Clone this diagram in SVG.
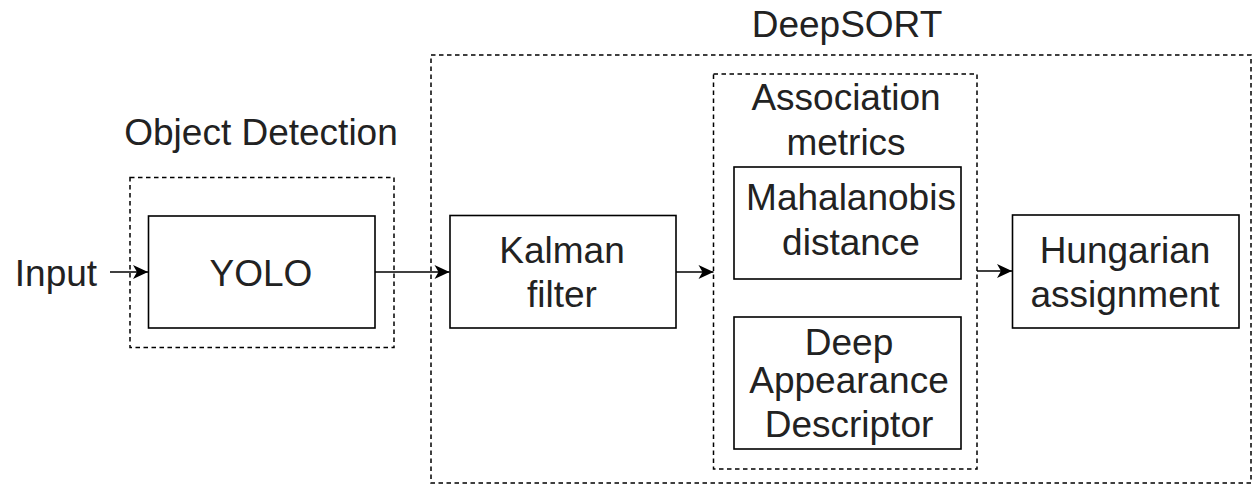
<svg xmlns="http://www.w3.org/2000/svg" width="1252" height="485" viewBox="0 0 1252 485">
<defs>
<style>
text{font-family:"Liberation Sans",Arial,Helvetica,sans-serif;font-size:37px;fill:#222;text-anchor:middle}
.box{fill:#fff;stroke:#000;stroke-width:1.6}
.dash{fill:none;stroke:#000;stroke-width:1.5;stroke-dasharray:4.5 3.5}
.edge{fill:none;stroke:#000;stroke-width:1.6}
</style>
<marker id="arr" markerUnits="userSpaceOnUse" markerWidth="18" markerHeight="16" refX="16" refY="8" orient="auto">
<path d="M16,8 L1,1 L5,8 L1,15 Z" fill="#000"/>
</marker>
</defs>
<rect width="1252" height="485" fill="#fff"/>
<g id="deepsort">
<rect class="dash" x="431" y="55" width="820" height="428"/>
<text x="847" y="37">DeepSORT</text>
</g>
<g id="object-detection">
<rect class="dash" x="130" y="177.5" width="264" height="170"/>
<text x="261" y="145">Object Detection</text>
</g>
<g id="association-metrics">
<rect class="dash" x="713.5" y="74" width="263.5" height="395"/>
<text x="846" y="110">Association</text>
<text x="846" y="155">metrics</text>
</g>
<g id="input">
<text x="56" y="286">Input</text>
</g>
<g id="yolo">
<rect class="box" x="148.5" y="216" width="226.5" height="112"/>
<text x="261" y="286">YOLO</text>
</g>
<g id="kalman">
<rect class="box" x="450" y="215.5" width="226" height="112.5"/>
<text x="562" y="263">Kalman</text>
<text x="562" y="307">filter</text>
</g>
<g id="mahalanobis">
<rect class="box" x="734" y="167" width="227" height="112"/>
<text x="851" y="210">Mahalanobis</text>
<text x="851" y="255">distance</text>
</g>
<g id="appearance">
<rect class="box" x="734" y="317" width="227" height="132"/>
<text x="849" y="355">Deep</text>
<text x="849" y="393">Appearance</text>
<text x="849" y="437">Descriptor</text>
</g>
<g id="hungarian">
<rect class="box" x="1012.5" y="215" width="226.5" height="113"/>
<text x="1125" y="263">Hungarian</text>
<text x="1125" y="307">assignment</text>
</g>
<g id="connectors">
<line class="edge" x1="110" y1="272" x2="148" y2="272" marker-end="url(#arr)"/>
<line class="edge" x1="375" y1="272" x2="449.5" y2="272" marker-end="url(#arr)"/>
<line class="edge" x1="676" y1="272" x2="713.5" y2="272" marker-end="url(#arr)"/>
<line class="edge" x1="977" y1="271" x2="1012" y2="271" marker-end="url(#arr)"/>
</g>
</svg>
